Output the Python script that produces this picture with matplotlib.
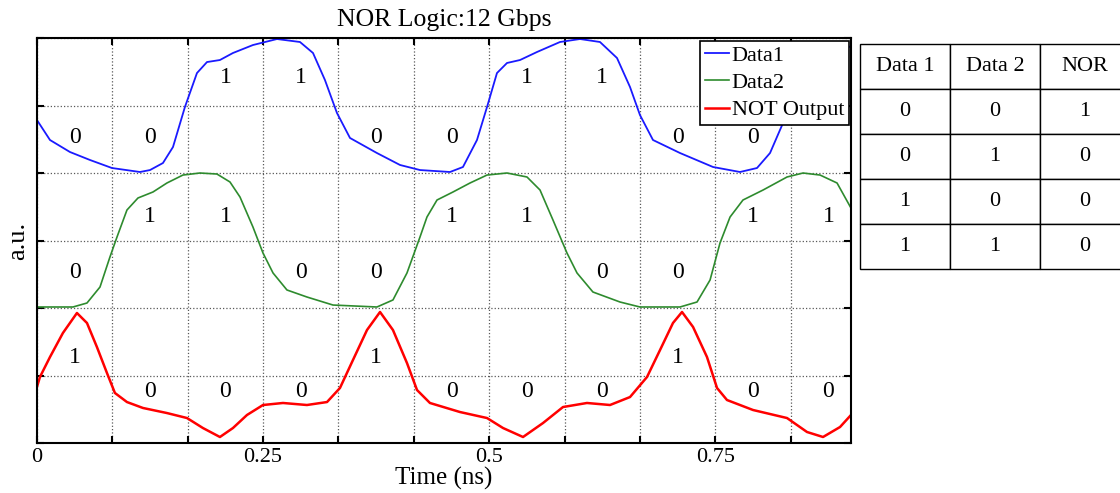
import matplotlib
matplotlib.use("Agg")
import matplotlib.pyplot as plt
import numpy as np
from matplotlib.ticker import FixedLocator, FuncFormatter

plt.rcParams['font.family'] = ['Liberation Serif', 'DejaVu Serif']

# waveforms (time in ns, amplitude in a.u.)
t_data1 = [0.000, 0.0144, 0.0365, 0.0586, 0.0829, 0.1139, 0.1250, 0.1393, 0.1504, 0.1636,
           0.1769, 0.1880, 0.2023, 0.2167, 0.2388, 0.2654, 0.2908, 0.3052, 0.3184, 0.3317,
           0.3461, 0.3759, 0.4014, 0.4235, 0.4567, 0.4710, 0.4865, 0.4976, 0.5086, 0.5197,
           0.5341, 0.5529, 0.5783, 0.6004, 0.6225, 0.6413, 0.6557, 0.6667, 0.6811, 0.7110,
           0.7475, 0.7773, 0.7961, 0.8105, 0.8215, 0.8326, 0.8437, 0.8547, 0.8691, 0.8835, 0.9000]
v_data1 = [4.785, 4.489, 4.311, 4.193, 4.074, 4.015, 4.044, 4.148, 4.385, 4.978,
           5.481, 5.644, 5.674, 5.778, 5.896, 5.985, 5.941, 5.778, 5.378, 4.889,
           4.519, 4.296, 4.119, 4.044, 4.015, 4.089, 4.489, 4.978, 5.481, 5.630,
           5.674, 5.793, 5.941, 5.985, 5.941, 5.704, 5.274, 4.859, 4.489, 4.296,
           4.089, 4.015, 4.074, 4.296, 4.637, 4.978, 5.481, 5.644, 5.674, 5.778, 5.880]

t_data2 = [0.000, 0.0398, 0.0553, 0.0697, 0.0807, 0.0885, 0.0995, 0.1117, 0.1283, 0.1437,
           0.1614, 0.1802, 0.1990, 0.2134, 0.2245, 0.2388, 0.2499, 0.2610, 0.2764, 0.2985,
           0.3273, 0.3759, 0.3936, 0.4091, 0.4235, 0.4312, 0.4423, 0.4600, 0.4788, 0.4976,
           0.5197, 0.5418, 0.5562, 0.5705, 0.5860, 0.5971, 0.6147, 0.6446, 0.6667, 0.7110,
           0.7298, 0.7442, 0.7552, 0.7663, 0.7806, 0.8028, 0.8293, 0.8470, 0.8658, 0.8846, 0.9000]
v_data2 = [2.015, 2.015, 2.074, 2.311, 2.756, 3.052, 3.452, 3.630, 3.719, 3.852,
           3.970, 4.000, 3.985, 3.867, 3.644, 3.200, 2.815, 2.519, 2.267, 2.163,
           2.044, 2.015, 2.119, 2.519, 3.052, 3.348, 3.600, 3.719, 3.852, 3.970,
           4.000, 3.941, 3.748, 3.304, 2.815, 2.519, 2.237, 2.089, 2.015, 2.015,
           2.089, 2.415, 2.963, 3.348, 3.600, 3.748, 3.941, 4.000, 3.970, 3.852, 3.481]

t_nor = [0.000, 0.0033, 0.0144, 0.0287, 0.0442, 0.0553, 0.0663, 0.0774, 0.0862, 0.0995,
         0.1172, 0.1437, 0.1659, 0.1835, 0.2023, 0.2167, 0.2322, 0.2499, 0.2720, 0.2985,
         0.3207, 0.3350, 0.3494, 0.3649, 0.3793, 0.3936, 0.4091, 0.4202, 0.4345, 0.4677,
         0.4976, 0.5153, 0.5374, 0.5595, 0.5816, 0.6081, 0.6336, 0.6557, 0.6745, 0.6889,
         0.7032, 0.7132, 0.7254, 0.7408, 0.7519, 0.7629, 0.7917, 0.8293, 0.8514, 0.8691,
         0.8879, 0.9000]
v_nor = [0.830, 0.978, 1.274, 1.630, 1.926, 1.778, 1.422, 1.037, 0.741, 0.607,
         0.519, 0.444, 0.370, 0.222, 0.089, 0.222, 0.415, 0.563, 0.593, 0.563,
         0.607, 0.815, 1.230, 1.674, 1.941, 1.674, 1.185, 0.785, 0.593, 0.459,
         0.370, 0.222, 0.089, 0.296, 0.533, 0.593, 0.563, 0.681, 0.978, 1.378,
         1.778, 1.941, 1.719, 1.274, 0.815, 0.637, 0.489, 0.370, 0.163, 0.089,
         0.237, 0.415]

# bit annotations (one per bit slot, None = no label)
bits_data1 = [0, 0, 1, 1, 0, 0, 1, 1, 0, 0, None]
bits_data2 = [0, 1, 1, 0, 0, 1, 1, 0, 0, 1, 1]
bits_nor = [1, 0, 0, 0, 1, 0, 0, 0, 1, 0, 0]
# label heights for (0, 1)
lev_data1 = (4.53, 5.41)
lev_data2 = (2.53, 3.35)
lev_nor = (0.76, 1.26)

bit_period = 1 / 12.0  # ns at 12 Gbps

table_header = ['Data 1', 'Data 2', 'NOR']
table_rows = [['0', '0', '1'],
              ['0', '1', '0'],
              ['1', '0', '0'],
              ['1', '1', '0']]

fig = plt.figure(figsize=(11.2, 4.93), dpi=100)
ax = fig.add_axes([0.033, 0.1014, 0.7268, 0.8215])

ax.plot(t_data1, v_data1, color='#1a1aff', lw=1.3, label='Data1')
ax.plot(t_data2, v_data2, color='#2e8b2e', lw=1.2, label='Data2')
ax.plot(t_nor, v_nor, color='#ff0000', lw=1.8, label='NOT Output')

for bits, lev in [(bits_data1, lev_data1), (bits_data2, lev_data2), (bits_nor, lev_nor)]:
    for i, b in enumerate(bits):
        if b is None:
            continue
        ax.text((i + 0.5) * bit_period, lev[b], str(b), ha='center', va='center', fontsize=17)

ax.set_xlim(0, 0.9)
ax.set_ylim(0, 6)
xt = np.arange(0, 0.9, bit_period)
ax.xaxis.set_major_locator(FixedLocator(xt))
ax.xaxis.set_major_formatter(FuncFormatter(
    lambda v, p: ('%g' % round(v, 2)) if abs(v * 4 - round(v * 4)) < 1e-6 else ''))
ax.set_yticks(np.arange(0, 7, 1))
ax.set_yticklabels([])
ax.tick_params(direction='in', top=True, right=True, length=5, width=1.5, labelsize=16)
ax.grid(True, linestyle=':', color='0.35', linewidth=0.9)
for s in ax.spines.values():
    s.set_linewidth(1.5)

ax.set_title('NOR Logic:12 Gbps', fontsize=18.5, pad=9)
ax.set_xlabel('Time (ns)', fontsize=18, labelpad=0)
ax.set_ylabel('a.u.', fontsize=19, labelpad=2)

leg = ax.legend(loc='upper right', bbox_to_anchor=(0.997, 0.993), borderaxespad=0,
                fontsize=16, handlelength=1.1, handletextpad=0.1, labelspacing=0.3,
                borderpad=0.2, fancybox=False, framealpha=1, edgecolor='black')
leg.get_frame().set_linewidth(1.2)

# truth table
tax = fig.add_axes([860 / 1120, (493 - 269) / 493, 270 / 1120, 225 / 493])
tax.axis('off')
tbl = tax.table(cellText=table_rows, colLabels=table_header, cellLoc='center',
                bbox=[0, 0, 1, 1])
tbl.auto_set_font_size(False)
for (r, c), cell in tbl.get_celld().items():
    cell.set_linewidth(1.0)
    cell.set_edgecolor('black')
    cell.get_text().set_fontsize(16)

fig.savefig('out.png', dpi=100)
